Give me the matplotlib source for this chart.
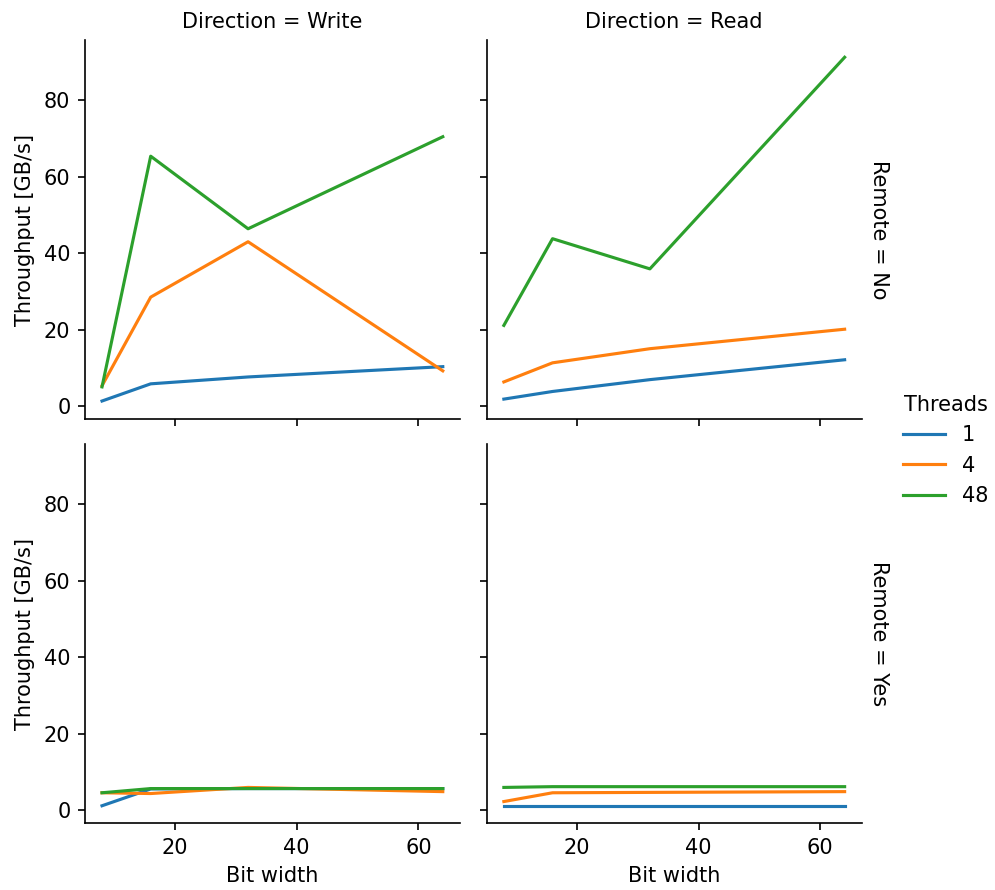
import matplotlib
matplotlib.use("Agg")
import matplotlib.pyplot as plt
import pandas as pd
import seaborn as sns

bit_width = [8, 16, 32, 64]
threads = [1, 4, 48]

# throughput in GB/s, per (remote, direction) -> per thread count
write_local = {1: [1.3, 5.8, 7.6, 10.3], 4: [5.3, 28.5, 43.0, 9.2], 48: [5.0, 65.4, 46.4, 70.5]}
read_local = {1: [1.8, 3.8, 6.9, 12.1], 4: [6.3, 11.3, 15.0, 20.1], 48: [21.1, 43.8, 35.9, 91.3]}
write_remote = {1: [1.1, 5.5, 5.6, 5.6], 4: [4.5, 4.3, 5.9, 4.8], 48: [4.5, 5.6, 5.6, 5.6]}
read_remote = {1: [1.1, 1.1, 1.1, 1.1], 4: [2.2, 4.5, 4.6, 4.8], 48: [5.9, 6.1, 6.1, 6.1]}


def main():
    rows = []
    for remote, direction, table in [("No", "Write", write_local), ("No", "Read", read_local),
                                     ("Yes", "Write", write_remote), ("Yes", "Read", read_remote)]:
        for t in threads:
            for bw, val in zip(bit_width, table[t]):
                rows.append({"Bit width": bw, "Throughput [GB/s]": val, "Threads": t,
                             "Direction": direction, "Remote": remote})
    df = pd.DataFrame(rows)

    g = sns.relplot(data=df, x="Bit width", y="Throughput [GB/s]", hue="Threads",
                    col="Direction", row="Remote", kind="line", palette="tab10",
                    hue_order=threads, col_order=["Write", "Read"], row_order=["No", "Yes"],
                    facet_kws={"margin_titles": True}, height=3, aspect=1)
    dpi = 150
    g.figure.set_size_inches(995 / dpi, 890 / dpi)
    g.figure.subplots_adjust(left=0.0854, right=0.866, top=0.955, bottom=0.0753,
                             wspace=0.072, hspace=0.066)
    g._legend.set_bbox_to_anchor((1.012, 0.494), transform=g.figure.transFigure)
    g._legend._loc = 7
    g.figure.savefig("out.png", dpi=dpi)


if __name__ == "__main__":
    main()
